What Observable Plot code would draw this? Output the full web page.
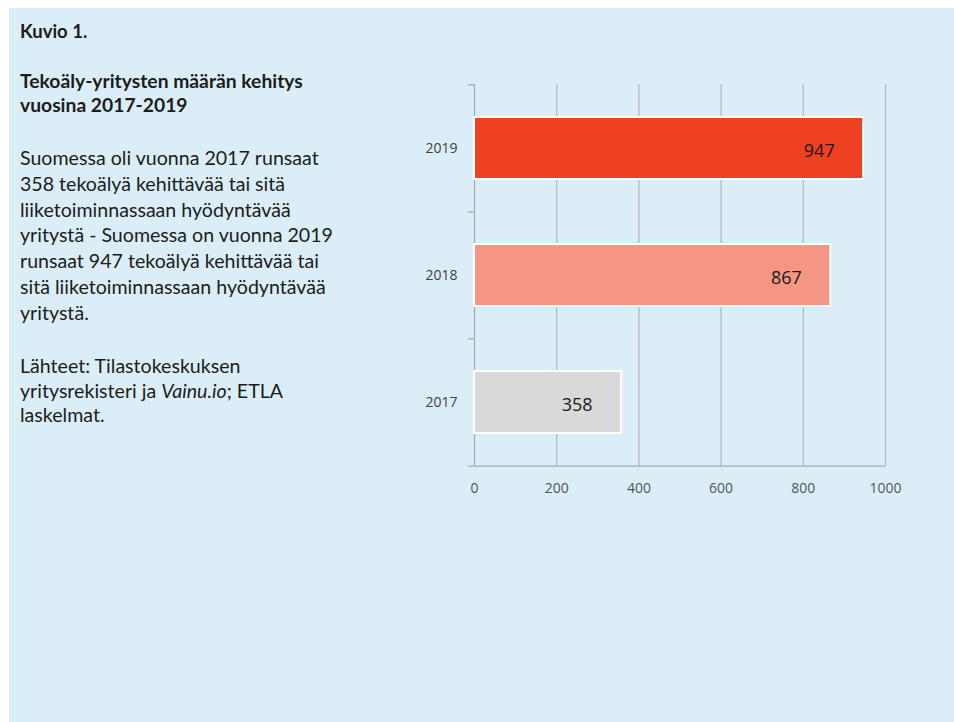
<!DOCTYPE html>
<html>
<head>
<meta charset="utf-8">
<script src="https://cdn.jsdelivr.net/npm/d3@7"></script>
<script src="https://cdn.jsdelivr.net/npm/@observablehq/plot@0.6"></script>
<style>
  html, body { margin: 0; padding: 0; background: #ffffff; width: 954px; height: 722px; overflow: hidden; }
  #panel { position: absolute; left: 9px; top: 8px; width: 945px; height: 714px; background: #dbeef7; }
  .txt { position: absolute; left: 11px; font-family: Lato, "Open Sans", sans-serif; color: #1c1c1c; font-size: 19.6px; white-space: nowrap; }
  .b { font-weight: bold; }
  #chart { position: absolute; left: 391px; top: 52px; }
</style>
</head>
<body>
<div id="panel">
  <div class="txt b" style="top:11px; line-height:24px; font-size:18.5px;">Kuvio 1.</div>
  <div class="txt b" style="top:61px; line-height:24px; font-size:19.3px;">Tekoäly-yritysten määrän kehitys<br>vuosina 2017-2019</div>
  <div class="txt" style="top:137px; line-height:25.8px;">Suomessa oli vuonna 2017 runsaat<br>358 tekoälyä kehittävää tai sitä<br>liiketoiminnassaan hyödyntävää<br>yritystä - Suomessa on vuonna 2019<br>runsaat 947 tekoälyä kehittävää tai<br>sitä liiketoiminnassaan hyödyntävää<br>yritystä.</div>
  <div class="txt" style="top:346px; line-height:24.5px;">Lähteet: Tilastokeskuksen<br>yritysrekisteri ja <i>Vainu.io</i>; ETLA<br>laskelmat.</div>
  <div id="chart"></div>
</div>
<script>
const years = ["2019", "2018", "2017"];
const values = [947, 867, 358];
const barColors = ["#ee4023", "#f59685", "#d9d9d9"];
const xTicks = [0, 200, 400, 600, 800, 1000];

const data = years.map((y, i) => ({year: y, value: values[i], color: barColors[i]}));

const W = 520, H = 460, mT = 24, mB = 54, mL = 74, mR = 35;
const step = (H - mT - mB) / years.length;
const gridColor = "#b3babe";

const chart = Plot.plot({
  width: W, height: H,
  marginTop: mT, marginBottom: mB, marginLeft: mL, marginRight: mR,
  style: {background: "transparent", fontFamily: "'Open Sans', sans-serif"},
  x: {domain: [0, 1000], axis: null, label: null},
  y: {domain: years, paddingInner: 0.513, paddingOuter: 0.2565, axis: null, label: null},
  marks: [
    Plot.ruleX(xTicks.slice(1), {stroke: gridColor, strokeWidth: 1.3}),
    Plot.ruleX([0], {stroke: "#a7adb0", strokeWidth: 1.3}),
    Plot.ruleY(years, {y: d => d, x1: -15, x2: 0, dy: -step / 2, stroke: "#a7adb0", strokeWidth: 1.3}),
    Plot.ruleY([years[years.length - 1]], {y: d => d, x1: -15, x2: 1000, dy: step / 2, stroke: "#a7adb0", strokeWidth: 1.3}),
    Plot.barX(data, {x: "value", y: "year", fill: d => d.color, stroke: "#ffffff", strokeWidth: 2}),
    Plot.text(data, {x: "value", y: "year", text: d => String(d.value), textAnchor: "end", dx: -29, dy: 3, fontSize: 18, fill: "#1a1a1a"}),
    Plot.axisY({tickSize: 0, tickPadding: 17, fontSize: 14, color: "#404040", label: null}),
    Plot.axisX({ticks: xTicks, tickSize: 0, tickPadding: 17, fontSize: 14, color: "#555555", label: null, tickFormat: d => String(d)})
  ]
});
document.getElementById("chart").appendChild(chart);
</script>
</body>
</html>
